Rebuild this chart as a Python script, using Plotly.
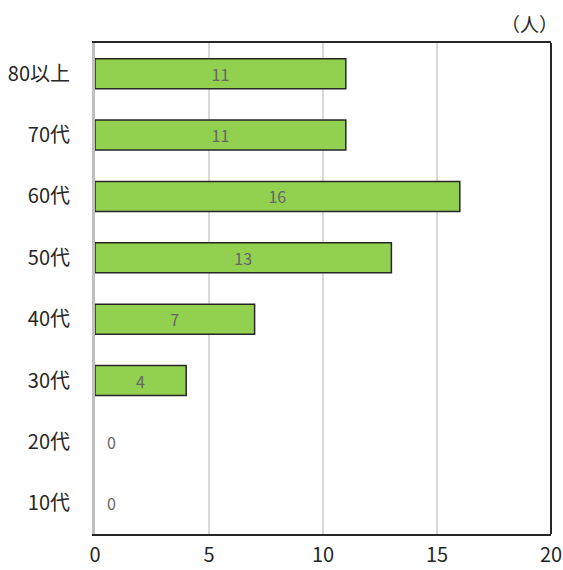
import plotly.graph_objects as go

categories = ["80以上", "70代", "60代", "50代", "40代", "30代", "20代", "10代"]
values = [11, 11, 16, 13, 7, 4, 0, 0]
x_ticks = [0, 5, 10, 15, 20]
unit_label = "（人）"

FONT = "Noto Sans CJK JP"

fig = go.Figure()
fig.add_trace(go.Bar(
    y=categories,
    x=values,
    orientation="h",
    marker=dict(color="#92D050",
                line=dict(color="#262626", width=[1.5 if v != 0 else 0 for v in values])),
    text=[str(v) if v != 0 else "" for v in values],
    textposition="inside",
    insidetextanchor="middle",
    textfont=dict(family=FONT, size=16, color="#666666"),
    width=0.49,
    hoverinfo="skip",
))

annotations = []
for c, v in zip(categories, values):
    if v == 0:
        annotations.append(dict(
            x=v, y=c, xref="x", yref="y", text=str(v), showarrow=False,
            xanchor="center", xshift=16,
            font=dict(family=FONT, size=16, color="#666666"),
        ))
annotations.append(dict(
    x=1, y=1, xref="paper", yref="paper", text=unit_label, showarrow=False,
    xanchor="right", yanchor="bottom", xshift=9, yshift=4,
    font=dict(family=FONT, size=19, color="#262626"),
))

fig.update_layout(
    width=563, height=570,
    margin=dict(l=95, r=12, t=43, b=36),
    paper_bgcolor="white", plot_bgcolor="white",
    showlegend=False,
    font=dict(family=FONT, size=20, color="#262626"),
    annotations=annotations,
    xaxis=dict(
        range=[0, 20], tickvals=x_ticks, ticktext=[str(t) for t in x_ticks],
        showgrid=True, gridcolor="#d9d9d9", gridwidth=1.5,
        showline=True, linecolor="#262626", linewidth=2, mirror=True,
        zeroline=False, ticks="", ticklabelstandoff=2,
        tickfont=dict(family=FONT, size=20, color="#262626"),
        automargin=False, fixedrange=True,
    ),
    yaxis=dict(
        autorange="reversed", showgrid=False, zeroline=False,
        showline=True, linecolor="#bfbfbf", linewidth=3,
        ticks="", ticklabelstandoff=18,
        tickfont=dict(family=FONT, size=20, color="#262626"),
        automargin=False, fixedrange=True,
    ),
    shapes=[dict(type="line", xref="paper", yref="paper", x0=1, x1=1, y0=0, y1=1,
                 line=dict(color="#262626", width=2))],
)

fig.write_html(
    "out.html",
    config={"displayModeBar": False, "staticPlot": True},
    post_script="document.body.style.margin='0';document.body.style.overflow='hidden';",
)
